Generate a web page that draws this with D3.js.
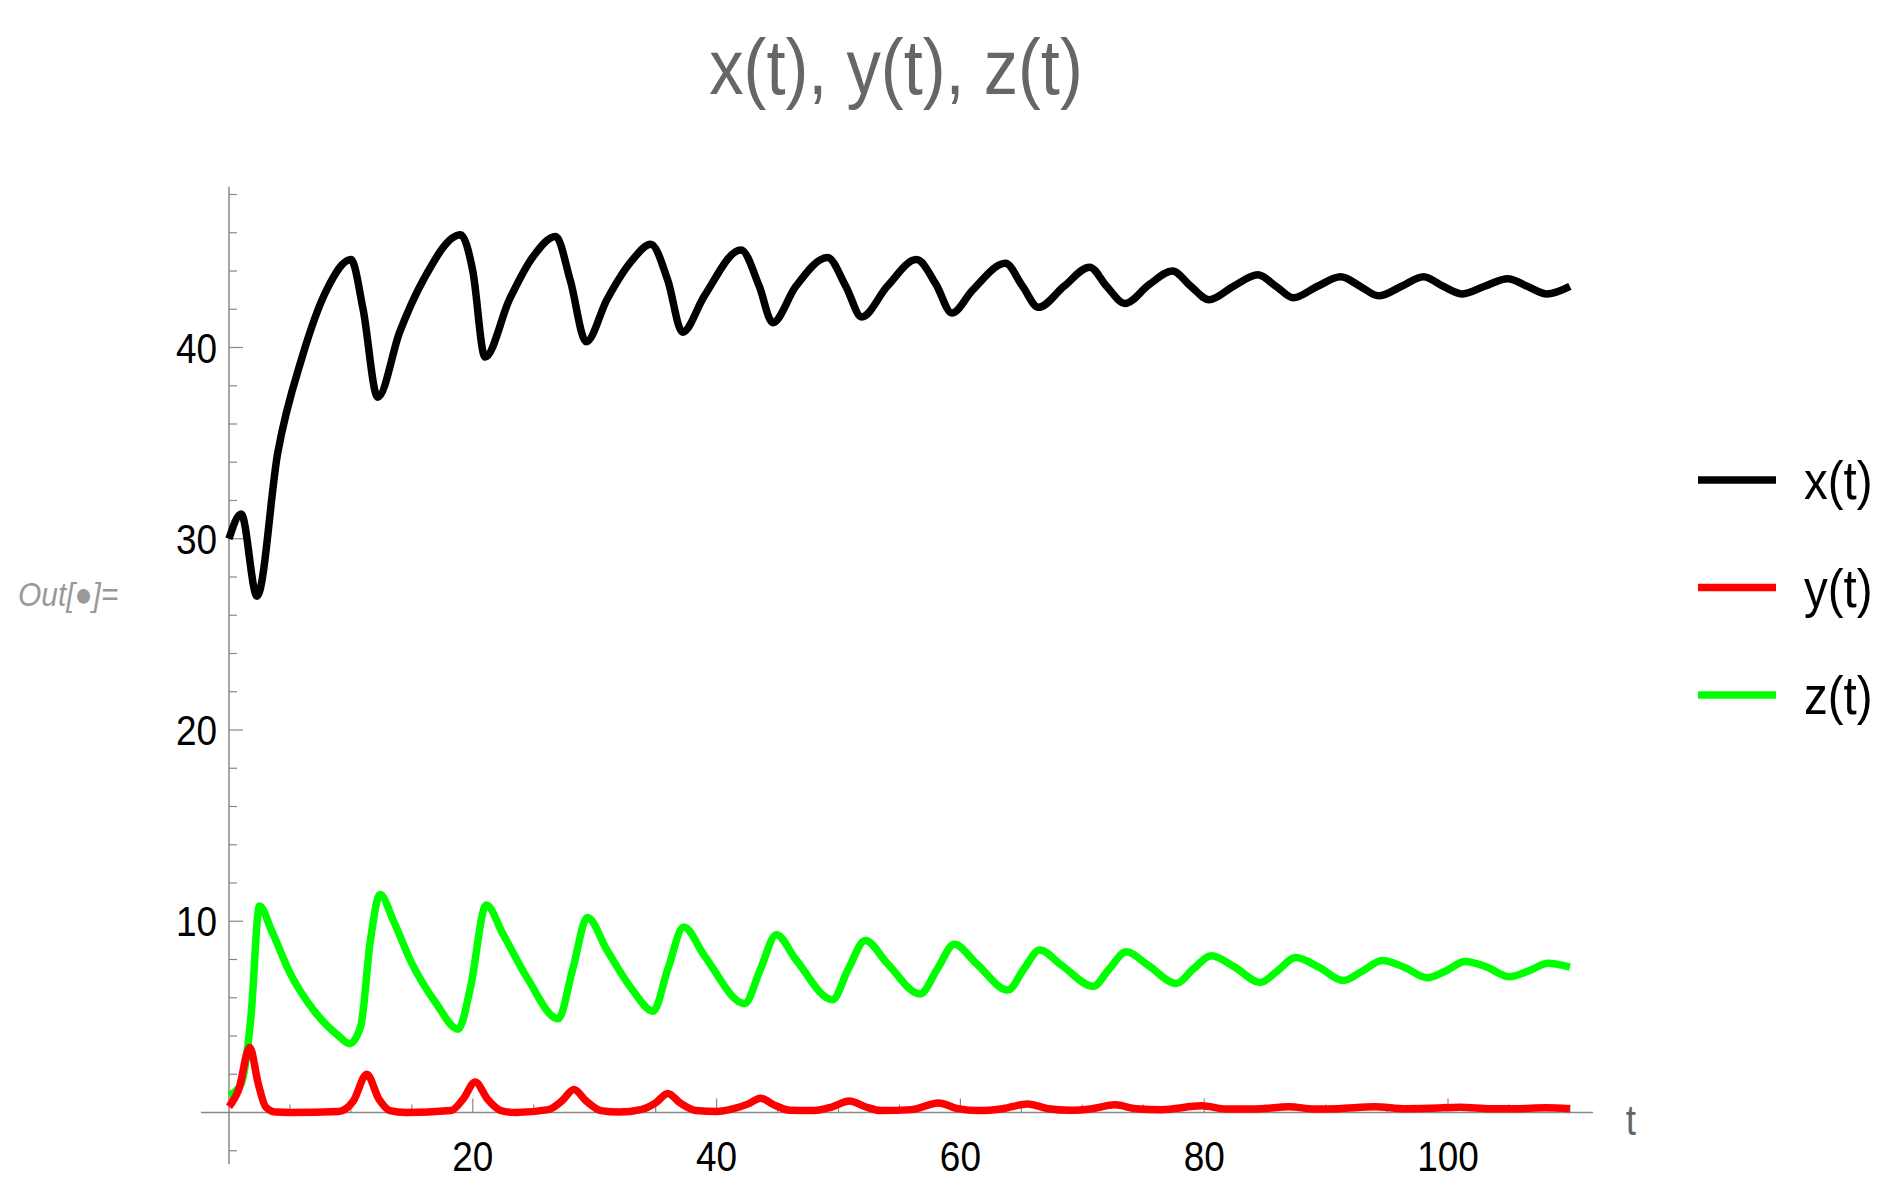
<!DOCTYPE html><html><head><meta charset="utf-8">
<script src="https://cdn.jsdelivr.net/npm/d3@7"></script>
<style>body{margin:0;background:#fff}svg{display:block}</style></head><body>
<script>
const xT=[0,1,2.3,4,6,8,10,11,12.2,14,16,19,20,21,23,25,26.8,28,29.3,31,33,34.6,36,37.2,39,42,43.5,44.6,46.5,49.1,50.6,51.9,54,56.4,58,59.3,61,63.7,65.1,66.4,68.5,70.6,72,73.5,75.5,77.4,78.9,80.4,82.4,84.4,85.9,87.3,89.3,91.2,92.8,94.3,96.2,98,99.6,101.2,103,104.9,106.5,108.1,110];
const xV=[30,31.3,27,34.5,39.5,43,44.6,42,37.4,40.8,43.6,45.9,44,39.5,42.5,44.8,45.8,43.5,40.3,42.5,44.5,45.4,43.5,40.8,42.7,45.1,43.2,41.3,43.2,44.7,43.2,41.6,43.2,44.6,43.3,41.8,43,44.4,43.2,42.1,43.2,44.2,43.2,42.3,43.3,44.0,43.2,42.5,43.2,43.8,43.2,42.6,43.2,43.7,43.2,42.7,43.2,43.7,43.2,42.8,43.2,43.6,43.2,42.8,43.2];
const zT=[0,1,1.8,2.5,3.5,5,7,9,9.9,10.8,11.6,12.4,13.5,15,17,18.8,19.8,21.1,22.5,24.5,27,28.2,29.4,31,33,34.8,36,37.3,39,42.3,43.6,44.9,46.5,49.5,50.8,52.2,54,56.7,58.1,59.5,61.3,63.9,65.2,66.5,68.3,70.9,72.2,73.6,75.4,77.7,79.1,80.6,82.5,84.6,86,87.5,89.4,91.4,93,94.6,96.4,98.3,99.8,101.4,103.2,105,106.6,108.2,110];
const zV=[0.9,1.5,5,10.8,9.5,7.3,5.3,4.0,3.6,4.5,9,11.4,10,7.8,5.7,4.35,6.5,10.85,9.3,7,4.9,7.5,10.2,8.5,6.5,5.3,7.5,9.7,8.2,5.7,7.5,9.3,8,5.9,7.5,9.0,7.8,6.2,7.5,8.8,7.8,6.4,7.5,8.5,7.7,6.6,7.5,8.4,7.7,6.75,7.5,8.2,7.6,6.8,7.4,8.1,7.6,6.9,7.4,7.95,7.6,7.05,7.4,7.9,7.6,7.1,7.4,7.8,7.6];
const yT=[0,0.8,1.7,2.4,3,3.8,5,9,10.2,11.3,12.3,13.2,14.5,18.2,19.2,20.2,21.2,22.3,23.5,26.2,27.3,28.3,29.3,30.5,32,33.8,35,36,37,38.3,40,41.4,42.6,43.6,44.7,46,48,49.5,50.9,52.2,53.5,56,58.2,59.8,61.5,63.5,65.5,67.2,69,70.8,72.7,74.4,76.5,79.8,81.8,84,87,89,91,94,96.5,98.5,101,103.5,105.5,108,110];
const yV=[0.3,1.2,3.4,1.5,0.3,0.02,0,0.05,0.6,2.0,0.7,0.1,0,0.1,0.7,1.6,0.7,0.1,0,0.15,0.6,1.2,0.6,0.1,0.02,0.15,0.5,1.0,0.5,0.1,0.05,0.2,0.45,0.75,0.4,0.12,0.1,0.3,0.6,0.3,0.1,0.15,0.5,0.2,0.1,0.2,0.45,0.2,0.12,0.2,0.4,0.2,0.15,0.35,0.18,0.18,0.3,0.18,0.2,0.3,0.2,0.22,0.28,0.2,0.2,0.25,0.2];
const seriesNames=["x(t)","y(t)","z(t)"];
const colors=["#000000","#ff0000","#00ff00"];
const xTicks=[20,40,60,80,100];
const yTicks=[10,20,30,40];

const W=1892,H=1189;
const svg=d3.select("body").append("svg").attr("width",W).attr("height",H);
const x=d3.scaleLinear().domain([0,100]).range([229,1448]);
const y=d3.scaleLinear().domain([0,40]).range([1112.5,347.5]);
const font="'Liberation Sans Narrow','Liberation Sans',Arial,sans-serif";
const ax="#888";
function condensed(sel,cx,cy,sx){return sel.attr("transform",`translate(${cx},${cy}) scale(${sx},1)`);}
svg.append("line").attr("x1",x(-2.3)).attr("x2",x(111.9)).attr("y1",y(0)).attr("y2",y(0)).attr("stroke",ax).attr("stroke-width",1.5);
svg.append("line").attr("x1",x(0)).attr("x2",x(0)).attr("y1",y(48.4)).attr("y2",y(-2.7)).attr("stroke",ax).attr("stroke-width",1.5);
d3.range(5,111,5).forEach(v=>{const maj=v%20===0;
 svg.append("line").attr("x1",x(v)).attr("x2",x(v)).attr("y1",y(0)).attr("y2",y(0)-(maj?14:8)).attr("stroke",ax).attr("stroke-width",1.2);});
d3.range(-2,49,2).forEach(v=>{if(v===0)return;const maj=v%10===0;
 svg.append("line").attr("x1",x(0)).attr("x2",x(0)+(maj?14:8)).attr("y1",y(v)).attr("y2",y(v)).attr("stroke",ax).attr("stroke-width",1.2);});
xTicks.forEach(v=>condensed(svg.append("text"),x(v),y(0)+58,0.88).attr("text-anchor","middle").attr("font-family",font).attr("font-size",42).text(v));
yTicks.forEach(v=>condensed(svg.append("text"),217,y(v)+15,0.88).attr("text-anchor","end").attr("font-family",font).attr("font-size",42).text(v));
condensed(svg.append("text"),1631,y(0)+22,0.88).attr("text-anchor","middle").attr("font-family",font).attr("font-size",42).attr("fill","#666").text("t");
condensed(svg.append("text"),896,94,0.88).attr("text-anchor","middle").attr("font-family",font).attr("font-size",78).attr("fill","#666").text("x(t), y(t), z(t)");
condensed(svg.append("text"),18,606,0.88).attr("font-family",font).attr("font-style","italic").attr("font-size",34).attr("fill","#999").text("Out[●]=");
const data=[[xT,xV],[yT,yV],[zT,zV]];
const line=d3.line().x(d=>x(d[0])).y(d=>y(d[1])).curve(d3.curveMonotoneX);
[0,2,1].forEach(i=>{const pts=data[i][0].map((t,j)=>[t,data[i][1][j]]);
 svg.append("path").attr("d",line(pts)).attr("fill","none").attr("stroke",colors[i]).attr("stroke-width",7.5).attr("stroke-linejoin","round");});
seriesNames.forEach((n,i)=>{const ly=480+i*107.5;
 svg.append("line").attr("x1",1698).attr("x2",1776).attr("y1",ly).attr("y2",ly).attr("stroke",colors[i]).attr("stroke-width",7.5);
 condensed(svg.append("text"),1804,ly+19,0.88).attr("font-family",font).attr("font-size",54).text(n);});
</script></body></html>
